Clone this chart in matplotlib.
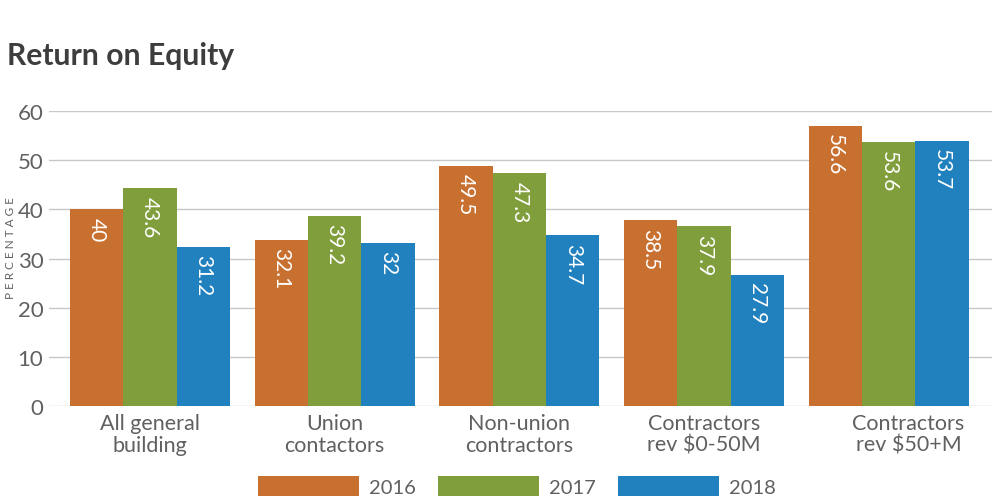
import matplotlib
matplotlib.use("Agg")
import matplotlib.pyplot as plt
import matplotlib.transforms as mtransforms
import numpy as np

categories = ["All general\nbuilding", "Union\ncontactors", "Non-union\ncontractors",
              "Contractors\nrev $0-50M", "Contractors\nrev $50+M"]
years = ["2016", "2017", "2018"]
# bar heights as drawn in the picture
heights_2016 = [40.0, 33.8, 48.9, 37.8, 57.0]
heights_2017 = [44.3, 38.7, 47.4, 36.6, 53.6]
heights_2018 = [32.4, 33.2, 34.8, 26.7, 54.0]
# printed value labels
labels_2016 = ["40", "32.1", "49.5", "38.5", "56.6"]
labels_2017 = ["43.6", "39.2", "47.3", "37.9", "53.6"]
labels_2018 = ["31.2", "32", "34.7", "27.9", "53.7"]
yticks = [0, 10, 20, 30, 40, 50, 60]

colors = ["#C87030", "#809E3C", "#2180BE"]
heights = [heights_2016, heights_2017, heights_2018]
labels = [labels_2016, labels_2017, labels_2018]

FONT = ['Lato', 'DejaVu Sans']
plt.rcParams['font.family'] = FONT
fig = plt.figure(figsize=(9.92, 5.02), dpi=100)
ax = fig.add_axes([49/992, 95/502, (992-49)/992, (407-112)/502])

x = np.arange(len(categories))
w = 0.289
for i in range(3):
    pos = x + (i - 1) * w
    bars = ax.bar(pos, heights[i], width=w, color=colors[i], label=years[i], zorder=2)
    for b, t in zip(bars, labels[i]):
        ax.annotate(t, (b.get_x() + b.get_width() / 2, b.get_height()),
                    xytext=(0, -5.5), textcoords="offset points",
                    rotation=-90, ha="center", va="top", color="white",
                    fontsize=15)

ax.set_ylim(0, 60)
ax.set_xlim(-0.547, 4.56)
ax.set_yticks(yticks)
ax.set_yticklabels([str(v) for v in yticks])
ax.yaxis.grid(True, color="#c8c8c8", linewidth=1, zorder=0)
ax.set_axisbelow(True)
for s in ax.spines.values():
    s.set_visible(False)
ax.tick_params(axis="both", length=0, colors="#606060")
ax.tick_params(axis="y", labelsize=16, pad=4)
ax.tick_params(axis="x", labelsize=15.5, pad=5)
ax.set_xticks(x)
ax.set_xticklabels(categories, linespacing=1.1)
xl = ax.get_xticklabels()
for lbl in xl:
    lbl.set_color("#606060")
shift = mtransforms.ScaledTranslation(20/100, 0, fig.dpi_scale_trans)
xl[-1].set_transform(xl[-1].get_transform() + shift)

fig.text(0.011, 0.505, "P E R C E N T A G E", rotation=90, fontsize=8.5, color="#606060",
         ha="center", va="center")

fig.text(7/992, 1 - 56/502, "Return on Equity", fontsize=21.7, fontweight="bold",
         color="#3d3d3d", ha="left", va="center")

leg = fig.legend(loc="center", bbox_to_anchor=(517/992, 1 - 487/502), ncol=3,
                 frameon=False, fontsize=14.5, handlelength=5.0, handleheight=1.15,
                 handletextpad=0.5, columnspacing=1.1)
for t in leg.get_texts():
    t.set_color("#606060")

fig.savefig("out.png", dpi=100)
